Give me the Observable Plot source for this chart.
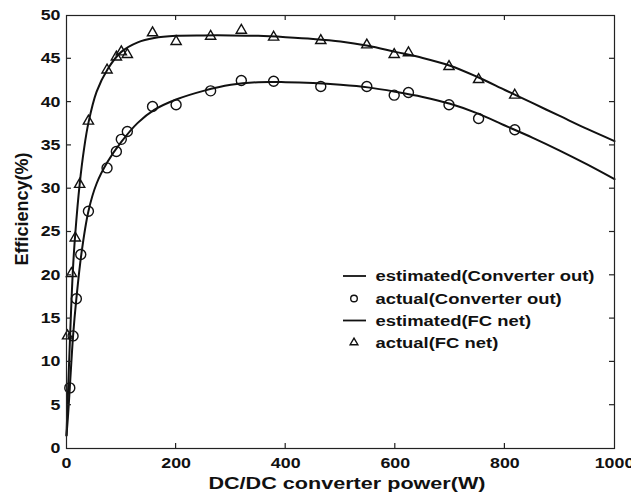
<!DOCTYPE html>
<html>
<head>
<meta charset="utf-8">
<script src="https://cdn.jsdelivr.net/npm/d3@7"></script>
<script src="https://cdn.jsdelivr.net/npm/@observablehq/plot@0.6"></script>
<style>
  html, body { margin: 0; padding: 0; background: #fff; }
  #chart svg { font-family: "Liberation Sans", Arial, Helvetica, sans-serif; }
</style>
</head>
<body>
<div id="chart"></div>
<script>
// ---------- data ----------
const xTicks = [0, 200, 400, 600, 800, 1000];
const yTicks = [0, 5, 10, 15, 20, 25, 30, 35, 40, 45, 50];

// estimated (FC net) curve
const fcEstX = [0, 3, 6, 9, 12, 16, 24, 32, 40, 55, 75, 100, 130, 160, 200, 250, 300, 350, 400, 450, 500, 550, 600, 650, 700, 750, 800, 850, 900, 950, 1000];
const fcEstY = [1.5, 7, 12, 17, 21, 24.8, 30.5, 34.6, 37.6, 41.2, 43.8, 45.8, 46.9, 47.4, 47.65, 47.7, 47.7, 47.65, 47.5, 47.3, 47.0, 46.5, 45.8, 45.1, 44.2, 42.9, 41.4, 39.9, 38.4, 36.9, 35.5];

// actual (FC net) points
const fcActX = [2, 9, 16, 24, 40, 74, 91, 100, 111, 157, 200, 263, 319, 378, 464, 548, 598, 624, 698, 752, 818];
const fcActY = [13.0, 20.2, 24.3, 30.5, 37.8, 43.7, 45.2, 45.8, 45.5, 48.0, 47.0, 47.6, 48.3, 47.5, 47.1, 46.6, 45.5, 45.7, 44.1, 42.6, 40.8];

// estimated (Converter out) curve
const convEstX = [0, 3, 6, 12, 18, 27, 40, 55, 75, 100, 130, 160, 200, 250, 300, 350, 400, 450, 500, 550, 600, 650, 700, 750, 800, 850, 900, 950, 1000];
const convEstY = [1.5, 4, 7, 13, 17.3, 22.4, 27.4, 30.6, 33.1, 35.4, 37.6, 39.1, 40.3, 41.3, 42.0, 42.3, 42.3, 42.2, 42.0, 41.7, 41.2, 40.6, 39.8, 38.7, 37.3, 35.9, 34.4, 32.8, 31.1];

// actual (Converter out) points
const convActX = [6, 12, 18, 26, 40, 74, 91, 100, 111, 157, 200, 263, 319, 378, 464, 548, 598, 624, 698, 752, 818];
const convActY = [7.0, 13.0, 17.3, 22.4, 27.4, 32.4, 34.3, 35.7, 36.6, 39.5, 39.7, 41.3, 42.5, 42.4, 41.8, 41.8, 40.8, 41.1, 39.7, 38.1, 36.8];

const xLabel = "DC/DC converter power(W)";
const yLabel = "Efficiency(%)";
const legendLabels = ["estimated(Converter out)", "actual(Converter out)", "estimated(FC net)", "actual(FC net)"];
const legendKinds = ["line", "circle", "line", "triangle"];

// ---------- layout ----------
const W = 631, H = 499;
const mL = 66, mR = 17, mT = 15, mB = 51;
const ink = "#111";
const stretch = 1.27;

const pts = (xs, ys) => xs.map((x, i) => ({x, y: ys[i]}));

const plot = Plot.plot({
  width: W, height: H,
  marginLeft: mL, marginRight: mR, marginTop: mT, marginBottom: mB,
  style: {background: "#fff", color: ink, fontSize: "14px", fontWeight: "bold", fontFamily: "'Liberation Sans', Arial, Helvetica, sans-serif"},
  x: {domain: [0, 1000], label: null},
  y: {domain: [0, 50], label: null},
  marks: [
    Plot.axisX(xTicks, {tickSize: 0, tickPadding: 9.5, label: null, tickFormat: d => String(d), fontSize: 14, fontWeight: "bold", fill: ink}),
    Plot.axisY(yTicks, {tickSize: 0, tickPadding: 6, label: null, tickFormat: d => String(d), fontSize: 14, fontWeight: "bold", fill: ink}),
    Plot.line(pts(fcEstX, fcEstY), {x: "x", y: "y", curve: "catmull-rom", stroke: ink, strokeWidth: 2}),
    Plot.line(pts(convEstX, convEstY), {x: "x", y: "y", curve: "catmull-rom", stroke: ink, strokeWidth: 2}),
    Plot.dot(pts(convActX, convActY), {x: "x", y: "y", r: 5, stroke: ink, strokeWidth: 1.4, fill: "none"}),
    Plot.dot(pts(fcActX, fcActY), {x: "x", y: "y", symbol: "triangle", r: 3.8, stroke: ink, strokeWidth: 1.4, fill: "none"}),
    Plot.frame({stroke: "#222", strokeWidth: 1.2})
  ]
});

document.getElementById("chart").append(plot);

const svg = d3.select(plot);
const sx = plot.scale("x"), sy = plot.scale("y");
const x0 = mL, x1 = W - mR, y0 = mT, y1 = H - mB;
const tickLen = 5;

// inward ticks on all four sides
const tg = svg.append("g").attr("stroke", "#222").attr("stroke-width", 1.2);
xTicks.filter(t => t > 0 && t < 1000).forEach(t => {
  const px = sx.apply(t);
  tg.append("line").attr("x1", px).attr("x2", px).attr("y1", y1).attr("y2", y1 - tickLen);
  tg.append("line").attr("x1", px).attr("x2", px).attr("y1", y0).attr("y2", y0 + tickLen);
});
yTicks.filter(t => t > 0 && t < 50).forEach(t => {
  const py = sy.apply(t);
  tg.append("line").attr("x1", x0).attr("x2", x0 + tickLen).attr("y1", py).attr("y2", py);
  tg.append("line").attr("x1", x1).attr("x2", x1 - tickLen).attr("y1", py).attr("y2", py);
});

// axis titles
svg.append("text")
  .attr("x", 347).attr("y", 489)
  .attr("text-anchor", "middle")
  .attr("font-size", 17).attr("font-weight", "bold").attr("fill", ink)
  .text(xLabel);
svg.append("text")
  .attr("class", "norot-skip")
  .attr("transform", "translate(22,209) rotate(-90)")
  .attr("text-anchor", "middle").attr("dy", "0.35em")
  .attr("font-size", 18).attr("font-weight", "bold").attr("fill", ink)
  .text(yLabel);

// legend
const lg = svg.append("g").attr("text-anchor", "start");
const rowY = [276, 298.5, 320.5, 342.5];
legendLabels.forEach((lab, i) => {
  const cy = rowY[i];
  const kind = legendKinds[i];
  if (kind === "line") {
    lg.append("line").attr("x1", 343).attr("x2", 366).attr("y1", cy).attr("y2", cy)
      .attr("stroke", ink).attr("stroke-width", 1.8);
  } else if (kind === "circle") {
    lg.append("circle").attr("cx", 354).attr("cy", cy).attr("r", 3.3)
      .attr("fill", "none").attr("stroke", ink).attr("stroke-width", 1.4);
  } else {
    lg.append("path").attr("transform", `translate(354,${cy})`)
      .attr("d", d3.symbol(d3.symbolTriangle, 26)())
      .attr("fill", "none").attr("stroke", ink).attr("stroke-width", 1.4);
  }
  lg.append("text").attr("x", 375.5).attr("y", cy).attr("dy", "0.36em")
    .attr("text-anchor", "start")
    .attr("font-size", 14.5).attr("font-weight", "bold").attr("fill", ink)
    .text(lab);
});

// horizontal stretch of the (non-rotated) text, like the reference
svg.selectAll("text").each(function () {
  if (this.classList.contains("norot-skip")) return;
  const L = this.getComputedTextLength();
  if (L > 0) {
    this.setAttribute("textLength", (L * stretch).toFixed(2));
    this.setAttribute("lengthAdjust", "spacingAndGlyphs");
  }
});
</script>
</body>
</html>
